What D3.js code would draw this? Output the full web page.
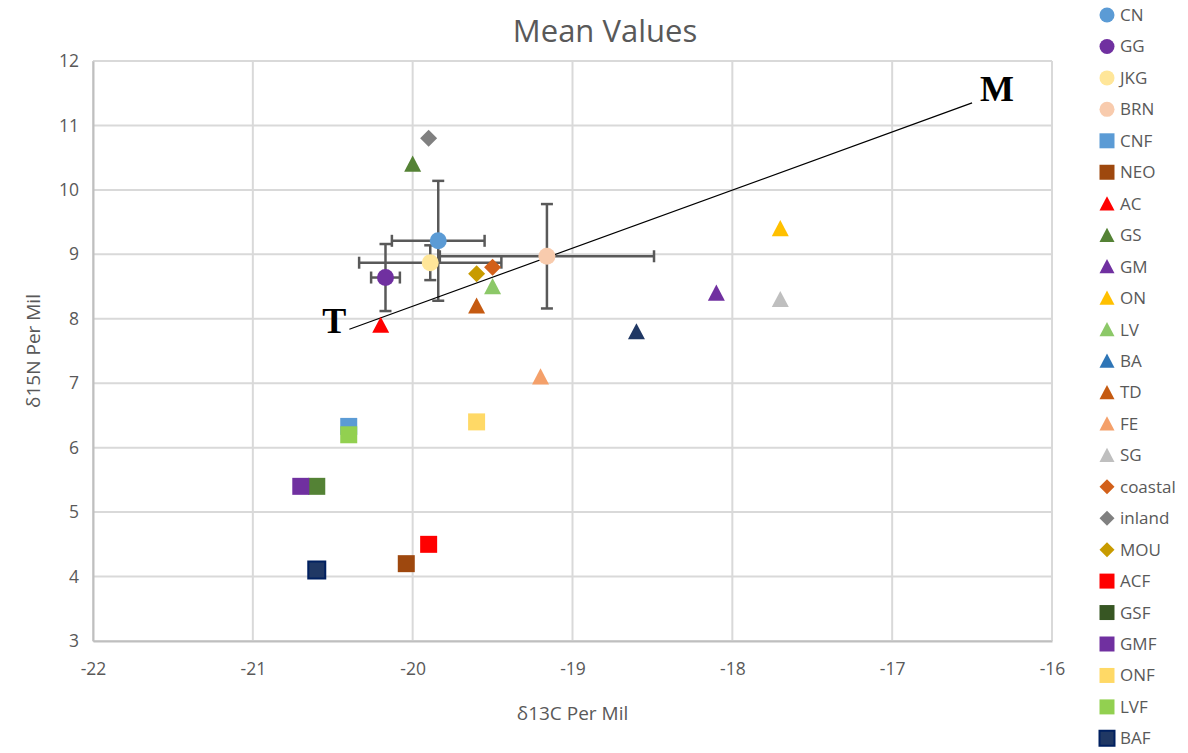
<!DOCTYPE html>
<html>
<head>
<meta charset="utf-8">
<script src="https://cdn.jsdelivr.net/npm/d3@7"></script>
<style>
  body { margin: 0; background: #fff; }
  text { font-family: "Open Sans", "Liberation Sans", sans-serif; }
</style>
</head>
<body>
<svg id="chart" width="1188" height="753"></svg>
<script>
// series, in legend order
var names   = ["CN","GG","JKG","BRN","CNF","NEO","AC","GS","GM","ON","LV","BA","TD","FE","SG","coastal","inland","MOU","ACF","GSF","GMF","ONF","LVF","BAF"];
var shapes  = ["circle","circle","circle","circle","square","square","triangle","triangle","triangle","triangle","triangle","triangle","triangle","triangle","triangle","diamond","diamond","diamond","square","square","square","square","square","square"];
var carbon  = [-19.84,-20.17,-19.89,-19.16,-20.4,-20.04,-20.2,-20.0,-18.1,-17.7,-19.5,-18.6,-19.6,-19.2,-17.7,-19.5,-19.9,-19.6,-19.9,-20.6,-20.7,-19.6,-20.4,-20.6];
var nitrogen= [9.21,8.64,8.87,8.97,6.33,4.2,7.9,10.4,8.4,9.4,8.5,7.8,8.2,7.1,8.3,8.8,10.8,8.7,4.5,5.4,5.4,6.4,6.2,4.1];
// error bars (only the four circle series have them)
var errX    = [0.29,0.09,0.445,0.67,0,0,0,0,0,0,0,0,0,0,0,0,0,0,0,0,0,0,0,0];
var errY    = [0.93,0.52,0.27,0.81,0,0,0,0,0,0,0,0,0,0,0,0,0,0,0,0,0,0,0,0];
var colors  = ["#5B9BD5","#7030A0","#FFE699","#F8CBAD","#5B9BD5","#9E480E","#FF0000","#548235","#7030A0","#FFC000","#8CC868","#203864","#C55A11","#F4A06A","#BFBFBF","#D2601A","#808080","#C89B00","#FF0000","#548235","#7030A0","#FFD966","#92D050","#203864"];
// a few legend swatches differ from the plotted marker
var legendColors = {"BA": "#2E75B6", "GSF": "#375623"};

var xTicks = [-22,-21,-20,-19,-18,-17,-16];
var yTicks = [3,4,5,6,7,8,9,10,11,12];
// the hand drawn T -> M line
var lineTM = [[-20.396, 7.837], [-16.5, 11.35]];

var svg = d3.select("#chart");
var pLeft = 93, pRight = 1052, pTop = 61, pBottom = 641;

var x = d3.scaleLinear().domain([-22, -16]).range([pLeft, pRight]);
var y = d3.scaleLinear().domain([3, 12]).range([pBottom, pTop]);

// gridlines
svg.append("g").selectAll("line").data(yTicks).enter().append("line")
  .attr("x1", pLeft).attr("x2", pRight)
  .attr("y1", function(d) { return y(d); }).attr("y2", function(d) { return y(d); })
  .attr("stroke", "#D9D9D9").attr("stroke-width", 2);
svg.append("g").selectAll("line").data(xTicks).enter().append("line")
  .attr("y1", pTop).attr("y2", pBottom)
  .attr("x1", function(d) { return x(d); }).attr("x2", function(d) { return x(d); })
  .attr("stroke", "#D9D9D9").attr("stroke-width", 2);

// axes, tick labels only
var fmt = function(d) { return String(d); };
var xAxis = svg.append("g").attr("transform", "translate(0," + pBottom + ")")
  .call(d3.axisBottom(x).tickValues(xTicks).tickFormat(fmt).tickSize(0).tickPadding(22));
var yAxis = svg.append("g").attr("transform", "translate(" + pLeft + ",0)")
  .call(d3.axisLeft(y).tickValues(yTicks).tickFormat(fmt).tickSize(0).tickPadding(14));
[xAxis, yAxis].forEach(function(a) {
  a.select(".domain").attr("stroke", "#BFBFBF").attr("stroke-width", 2);
  a.selectAll("text").attr("fill", "#595959").style("font-size", "17.5px");
});

svg.append("text").attr("x", 605).attr("y", 42)
  .attr("text-anchor", "middle").attr("fill", "#595959")
  .style("font-size", "31px").text("Mean Values");
svg.append("text").attr("x", (pLeft + pRight) / 2).attr("y", 720)
  .attr("text-anchor", "middle").attr("fill", "#595959")
  .style("font-size", "19px").text("δ13C Per Mil");
svg.append("text").attr("transform", "translate(40," + ((pTop + pBottom) / 2) + ") rotate(-90)")
  .attr("text-anchor", "middle").attr("fill", "#595959")
  .style("font-size", "19px").text("δ15N Per Mil");

var data = names.map(function(n, i) {
  return {name: n, shape: shapes[i], cx: carbon[i], ny: nitrogen[i], ex: errX[i], ey: errY[i], color: colors[i]};
});

// error bars
var eb = svg.append("g").attr("stroke", "#595959").attr("stroke-width", 2.5);
var cap = 6;
data.filter(function(d) { return d.ex || d.ey; }).forEach(function(d) {
  var px = x(d.cx), py = y(d.ny);
  var x0 = x(d.cx - d.ex), x1 = x(d.cx + d.ex);
  var y0 = y(d.ny - d.ey), y1 = y(d.ny + d.ey);
  eb.append("line").attr("x1", x0).attr("x2", x1).attr("y1", py).attr("y2", py);
  eb.append("line").attr("x1", x0).attr("x2", x0).attr("y1", py - cap).attr("y2", py + cap);
  eb.append("line").attr("x1", x1).attr("x2", x1).attr("y1", py - cap).attr("y2", py + cap);
  eb.append("line").attr("x1", px).attr("x2", px).attr("y1", y0).attr("y2", y1);
  eb.append("line").attr("x1", px - cap).attr("x2", px + cap).attr("y1", y0).attr("y2", y0);
  eb.append("line").attr("x1", px - cap).attr("x2", px + cap).attr("y1", y1).attr("y2", y1);
});

function markerPath(shape, s) {
  var h = s / 2;
  if (shape === "circle") return d3.symbol(d3.symbolCircle, Math.PI * h * h)();
  if (shape === "square") return "M" + (-h) + "," + (-h) + "h" + s + "v" + s + "h" + (-s) + "Z";
  if (shape === "triangle") return "M0," + (-h) + "L" + h + "," + h * 0.9 + "L" + (-h) + "," + h * 0.9 + "Z";
  if (shape === "diamond") return "M0," + (-h) + "L" + h + ",0L0," + h + "L" + (-h) + ",0Z";
}

// T -> M line
svg.append("line")
  .attr("x1", x(lineTM[0][0])).attr("y1", y(lineTM[0][1]))
  .attr("x2", x(lineTM[1][0])).attr("y2", y(lineTM[1][1]))
  .attr("stroke", "#000").attr("stroke-width", 1.2);
svg.append("text").attr("x", x(lineTM[0][0]) - 27).attr("y", y(lineTM[0][1]) + 4)
  .style("font-family", "'Liberation Serif', 'Times New Roman', serif")
  .style("font-weight", "bold").style("font-size", "36px").text("T");
svg.append("text").attr("x", x(lineTM[1][0]) + 8).attr("y", y(lineTM[1][1]) - 2)
  .style("font-family", "'Liberation Serif', 'Times New Roman', serif")
  .style("font-weight", "bold").style("font-size", "36px").text("M");

// markers
svg.append("g").selectAll("path").data(data).enter().append("path")
  .attr("transform", function(d) { return "translate(" + x(d.cx) + "," + y(d.ny) + ")"; })
  .attr("d", function(d) { return markerPath(d.shape, 17); })
  .attr("fill", function(d) { return d.color; })
  .attr("stroke", function(d) { return d.name === "BAF" ? "#002060" : "none"; })
  .attr("stroke-width", 2);

// legend
var leg = svg.append("g").selectAll("g").data(data).enter().append("g")
  .attr("transform", function(d, i) { return "translate(1107," + (15 + i * 31.45) + ")"; });
leg.append("path")
  .attr("d", function(d) { return markerPath(d.shape, 15); })
  .attr("fill", function(d) { return legendColors[d.name] || d.color; })
  .attr("stroke", function(d) { return d.name === "BAF" ? "#002060" : "none"; })
  .attr("stroke-width", 2);
leg.append("text").attr("x", 13).attr("y", 6)
  .attr("fill", "#595959").style("font-size", "17px")
  .text(function(d) { return d.name; });
</script>
</body>
</html>
